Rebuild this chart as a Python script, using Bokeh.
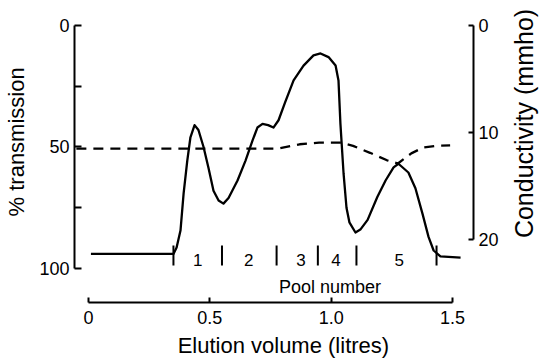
import math
from bokeh.plotting import figure
from bokeh.models import Range1d, LinearAxis, FixedTicker, Label
from bokeh.core.properties import value
from bokeh.embed import file_html
from bokeh.resources import INLINE

# Transmission trace (solid line)
volume = [0.01, 0.35, 0.363, 0.379, 0.392, 0.407, 0.42, 0.437, 0.453, 0.474, 0.494,
          0.515, 0.536, 0.556, 0.577, 0.614, 0.647, 0.676, 0.696, 0.717, 0.74, 0.762,
          0.783, 0.81, 0.845, 0.886, 0.927, 0.956, 0.989, 1.018, 1.03, 1.038, 1.051,
          1.063, 1.075, 1.1, 1.12, 1.15, 1.19, 1.224, 1.257, 1.277, 1.318, 1.347,
          1.376, 1.401, 1.422, 1.45, 1.533]
transmission = [94, 94, 91.4, 84.4, 69, 55.6, 46, 41, 43, 50, 58.4,
                68, 72, 73.3, 71, 63.8, 55.6, 47.3, 42, 40.5, 41, 42,
                39, 31.6, 22.6, 16.5, 12.3, 11.5, 13, 16.5, 22.6, 40.5, 61,
                75, 81, 85.2, 84, 80, 70.6, 63.8, 58.4, 56.9, 60.5, 67,
                77.4, 87, 92.6, 95, 95.5]

# Conductivity trace (dashed line)
cond_volume = [-0.05, 0.78, 0.87, 0.95, 1.04, 1.09, 1.16, 1.23, 1.275, 1.33, 1.38, 1.43, 1.49]
conductivity = [11.5, 11.5, 11.1, 10.95, 10.95, 11.25, 11.9, 12.6, 12.9, 11.95, 11.4, 11.25, 11.2]

# Pools
pool_edges = [0.35, 0.55, 0.775, 0.945, 1.104, 1.434]
pool_labels = ["1", "2", "3", "4", "5"]
pool_label_x = [0.45, 0.66, 0.875, 1.02, 1.28]

x_ticks = [0, 0.5, 1.0, 1.5]
x_tick_labels = ["0", "0.5", "1.0", "1.5"]
t_ticks = [0, 50, 100]
t_minor = [25, 75]
c_ticks = [0, 10, 20]

FONT = "Liberation Sans"

p = figure(width=540, height=361,
           x_range=Range1d(-0.0577, 1.5863), y_range=Range1d(114, 0),
           output_backend="svg", toolbar_location=None,
           min_border_left=74, min_border_right=67,
           min_border_top=25, min_border_bottom=59)
p.grid.visible = False
p.outline_line_color = None
p.background_fill_color = "white"

p.extra_y_ranges = {"cond": Range1d(25.89, 0)}
raxis = LinearAxis(y_range_name="cond")
p.add_layout(raxis, "right")

xaxis = p.xaxis[0]
yaxis = p.yaxis[0]

for ax in (xaxis, yaxis, raxis):
    ax.axis_line_width = 2
    ax.axis_line_color = "black"
    ax.major_tick_line_width = 2
    ax.minor_tick_line_width = 2
    ax.major_tick_line_color = "black"
    ax.minor_tick_line_color = "black"
    ax.major_tick_out = 0
    ax.minor_tick_out = 0
    ax.major_label_text_font = FONT
    ax.major_label_text_font_size = "18px"
    ax.major_label_text_color = "black"

xaxis.bounds = (0, 1.5)
xaxis.ticker = FixedTicker(ticks=x_ticks, minor_ticks=[])
xaxis.major_label_overrides = {t: s for t, s in zip(x_ticks, x_tick_labels)}
xaxis.major_tick_in = 5
xaxis.major_label_standoff = 8

yaxis.bounds = (0, 100)
yaxis.ticker = FixedTicker(ticks=t_ticks, minor_ticks=t_minor)
yaxis.major_tick_in = 7
yaxis.minor_tick_in = 7
yaxis.major_label_standoff = 5

raxis.bounds = (0, 20)
raxis.ticker = FixedTicker(ticks=c_ticks, minor_ticks=[])
raxis.major_tick_in = 5
raxis.major_label_standoff = 5

# Axis titles, placed in the side panels
p.add_layout(Label(x=-0.297, y=47.9, text="% transmission", angle=math.pi / 2,
                   text_font=FONT, text_font_size="22px", text_color="black",
                   text_align="center", text_baseline="middle"), "left")
p.add_layout(Label(x=1.796, y=9.16, y_range_name="cond", text="Conductivity (mmho)",
                   angle=math.pi / 2, text_font=FONT, text_font_size="25px",
                   text_color="black", text_align="center", text_baseline="middle"), "right")
p.add_layout(Label(x=0.803, y=131.5, text="Elution volume (litres)",
                   text_font=FONT, text_font_size="22px", text_color="black",
                   text_align="center", text_baseline="middle"), "below")

p.line(volume, transmission, line_color="black", line_width=2.3, line_join="round")
p.line(cond_volume, conductivity, y_range_name="cond", line_color="black",
       line_width=2.3, line_dash="10 7")

p.segment(x0=pool_edges, y0=[90.5] * len(pool_edges), x1=pool_edges,
          y1=[98.8] * len(pool_edges), line_color="black", line_width=2)
p.text(x=pool_label_x, y=[96.5] * len(pool_label_x), text=pool_labels,
       text_font=value(FONT), text_font_size="17px", text_align="center",
       text_baseline="middle", text_color="black")
p.text(x=[0.995], y=[107.8], text=["Pool number"], text_font=value(FONT),
       text_font_size="18px", text_align="center", text_baseline="middle",
       text_color="black")

open("out.html", "w").write(file_html(p, INLINE))
